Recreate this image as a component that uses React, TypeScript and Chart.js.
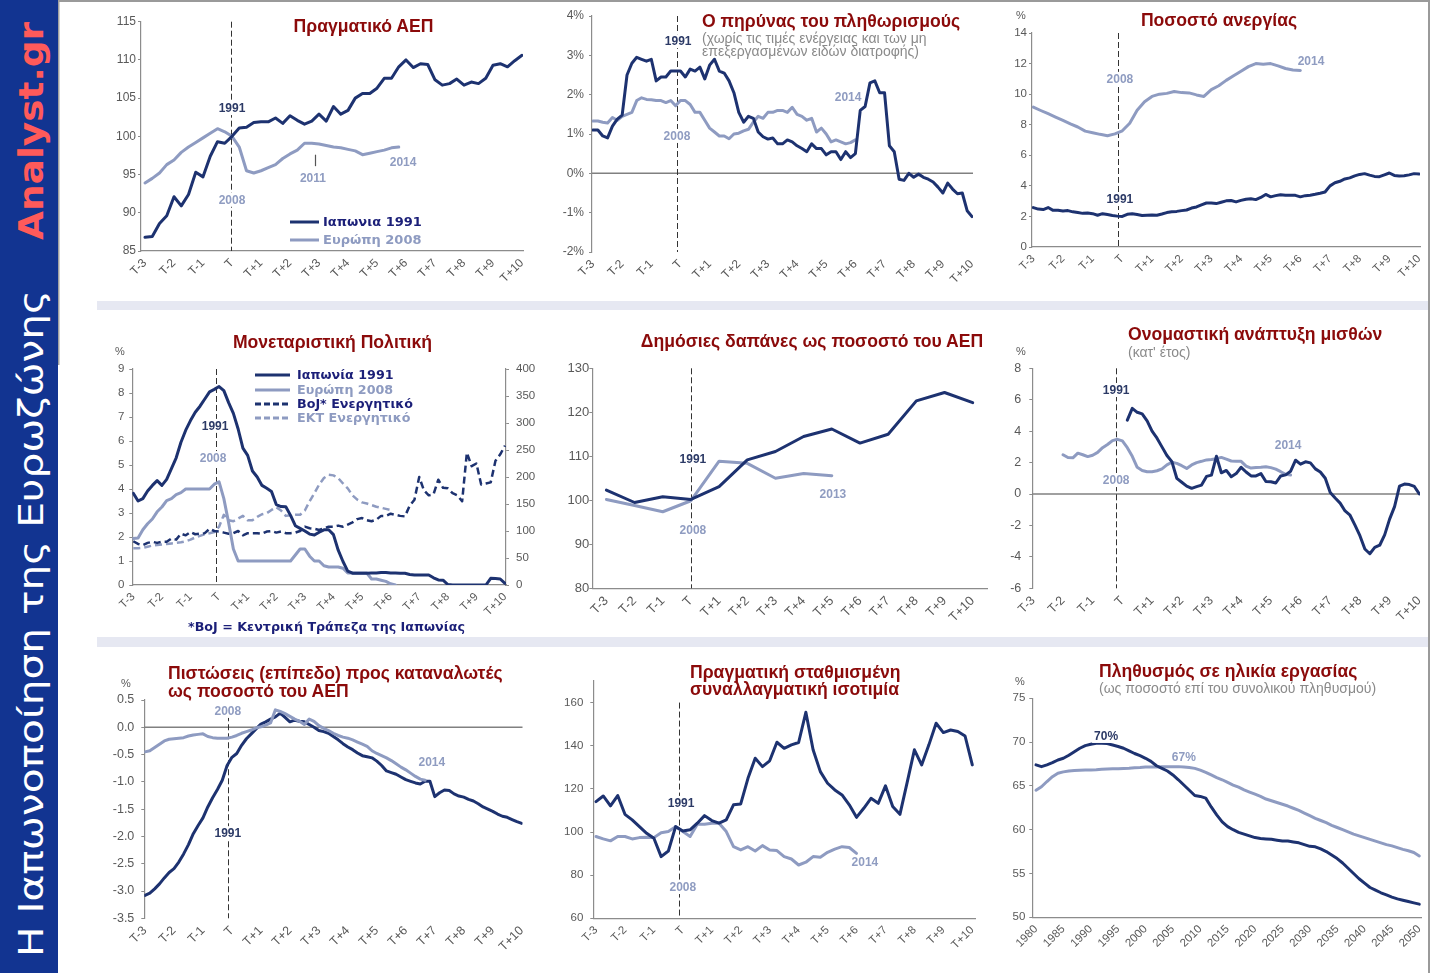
import React, { useEffect, useRef } from 'react';
import { Chart, registerables } from 'chart.js';

Chart.register(...registerables);
Chart.defaults.font.family = '"Liberation Sans", Arial, sans-serif';

// ---------------- axis categories ----------------
const T_VALUES = [-3, -2, -1, 0, 1, 2, 3, 4, 5, 6, 7, 8, 9, 10];
const T_LABELS = ['T-3', 'T-2', 'T-1', 'T', 'T+1', 'T+2', 'T+3', 'T+4', 'T+5', 'T+6', 'T+7', 'T+8', 'T+9', 'T+10'];
const YEAR_VALUES = [1980, 1985, 1990, 1995, 2000, 2005, 2010, 2015, 2020, 2025, 2030, 2035, 2040, 2045, 2050];
const YEAR_LABELS = ['1980', '1985', '1990', '1995', '2000', '2005', '2010', '2015', '2020', '2025', '2030', '2035', '2040', '2045', '2050'];

// ---------------- 1. Real GDP (quarterly from T-3) ----------------
const GDP_JAPAN = [86.8, 86.9, 88.6, 89.6, 92.1, 90.9, 92.4, 95.3, 94.7, 97.4, 99.3, 99.1, 100.0, 101.1, 101.2, 101.8, 101.9, 101.9, 102.4, 101.7, 102.7, 102.1, 101.6, 102.0, 102.9, 102.0, 103.9, 102.9, 103.4, 105.0, 105.6, 105.6, 106.3, 107.6, 107.6, 109.1, 110.0, 109.0, 109.5, 109.4, 107.4, 106.7, 106.9, 107.5, 106.7, 107.1, 106.9, 107.6, 109.3, 109.5, 109.1, 109.9, 110.6];
const GDP_EUROPE = [93.9, 94.5, 95.2, 96.3, 96.9, 97.9, 98.6, 99.2, 99.8, 100.4, 101.0, 100.6, 100.0, 98.6, 95.5, 95.2, 95.5, 95.9, 96.3, 97.1, 97.7, 98.2, 99.1, 99.1, 99.0, 98.8, 98.6, 98.5, 98.3, 98.1, 97.6, 97.8, 98.0, 98.2, 98.5, 98.6];

// ---------------- 2. Core inflation (%, 6 per period from T-3) ----------------
const CORE_JAPAN = [1.1, 1.1, 0.95, 0.9, 1.2, 1.38, 1.48, 2.5, 2.8, 2.95, 2.9, 2.85, 2.9, 2.35, 2.45, 2.45, 2.6, 2.6, 2.6, 2.45, 2.65, 2.6, 2.7, 2.4, 2.75, 2.9, 2.6, 2.55, 2.35, 2.05, 1.55, 1.3, 1.45, 1.4, 1.05, 0.93, 0.87, 0.9, 0.75, 0.75, 0.85, 0.8, 0.7, 0.63, 0.55, 0.75, 0.63, 0.63, 0.47, 0.55, 0.55, 0.35, 0.55, 0.4, 0.5, 1.6, 1.7, 2.3, 2.35, 2.05, 2.05, 0.7, 0.55, -0.15, -0.18, 0, -0.1, -0.02, -0.1, -0.15, -0.22, -0.35, -0.5, -0.25, -0.4, -0.52, -0.5, -0.95, -1.1];
const CORE_EUROPE = [1.33, 1.33, 1.3, 1.28, 1.42, 1.35, 1.45, 1.5, 1.55, 1.85, 1.92, 1.88, 1.87, 1.85, 1.85, 1.8, 1.85, 1.72, 1.85, 1.85, 1.75, 1.55, 1.55, 1.35, 1.15, 1.05, 0.95, 0.95, 0.88, 1.0, 1.02, 1.08, 1.12, 1.3, 1.45, 1.4, 1.55, 1.55, 1.6, 1.6, 1.55, 1.68, 1.5, 1.45, 1.35, 1.4, 1.05, 1.15, 1.0, 0.8, 0.85, 0.8, 0.75, 0.78, 0.85];

// ---------------- 3. Unemployment rate ----------------
const UNEMP_JAPAN = [2.58, 2.48, 2.45, 2.58, 2.4, 2.4, 2.36, 2.38, 2.3, 2.25, 2.2, 2.22, 2.18, 2.08, 2.18, 2.12, 2.06, 2.02, 2.0, 2.14, 2.18, 2.12, 2.06, 2.08, 2.1, 2.08, 2.16, 2.25, 2.3, 2.33, 2.38, 2.42, 2.55, 2.62, 2.76, 2.88, 2.88, 2.84, 2.93, 3.02, 3.04, 2.95, 3.05, 3.12, 3.15, 3.1, 3.24, 3.44, 3.28, 3.36, 3.42, 3.39, 3.39, 3.38, 3.28, 3.36, 3.39, 3.45, 3.52, 3.6, 4.0, 4.2, 4.3, 4.45, 4.52, 4.65, 4.75, 4.8, 4.7, 4.62, 4.6, 4.72, 4.84, 4.68, 4.65, 4.66, 4.72, 4.8, 4.77];
const UNEMP_EUROPE = [9.15, 8.93, 8.72, 8.5, 8.28, 8.05, 7.85, 7.58, 7.48, 7.37, 7.28, 7.4, 7.6, 8.1, 8.95, 9.5, 9.85, 10.0, 10.05, 10.17, 10.1, 10.08, 9.95, 9.85, 10.3, 10.55, 10.9, 11.2, 11.5, 11.8, 12.0, 11.95, 12.0, 11.85, 11.68, 11.58, 11.55];

// ---------------- 4. Monetary policy ----------------
const RATE_JAPAN = [3.82, 3.5, 3.6, 3.92, 4.15, 4.35, 4.15, 4.4, 4.85, 5.3, 5.95, 6.45, 6.85, 7.2, 7.45, 7.75, 8.05, 8.15, 8.27, 8.1, 7.6, 7.15, 6.5, 5.7, 5.4, 4.75, 4.5, 4.15, 4.03, 3.9, 3.35, 3.27, 3.26, 2.9, 2.47, 2.36, 2.25, 2.12, 2.08, 2.2, 2.3, 2.3, 2.1, 1.45, 0.98, 0.58, 0.49, 0.49, 0.49, 0.49, 0.5, 0.5, 0.52, 0.52, 0.5, 0.5, 0.49, 0.49, 0.44, 0.42, 0.42, 0.42, 0.42, 0.3, 0.21, 0.2, 0.02, 0, 0, 0, 0, 0, 0, 0, 0, 0.28, 0.27, 0.25, 0.07];
const RATE_EUROPE = [1.94, 1.96, 2.3, 2.55, 2.75, 3.05, 3.25, 3.52, 3.6, 3.77, 3.85, 4.0, 4.0, 4.0, 4.0, 4.0, 4.0, 4.2, 4.3, 3.6, 2.6, 1.5, 1.0, 1.0, 1.0, 1.0, 1.0, 1.0, 1.0, 1.0, 1.0, 1.0, 1.0, 1.0, 1.25, 1.5, 1.5, 1.2, 1.0, 1.0, 0.8, 0.75, 0.75, 0.75, 0.7, 0.5, 0.5, 0.5, 0.5, 0.5, 0.25, 0.25, 0.2, 0.15, 0.05, 0.0];
const ASSETS_BOJ = [81, 76, 74, 78, 80, 78, 80, 80, 86, 84, 95, 92, 98, 94, 95, 96, 104, 100, 99, 97, 95, 96, 100, 92, 96, 96, 96, 95, 99, 100, 97, 99, 96, 96, 97, 100, 108, 105, 104, 102, 105, 108, 108, 110, 108, 112, 116, 122, 124, 120, 118, 121, 128, 128, 132, 130, 128, 127, 147, 158, 200, 175, 166, 168, 195, 180, 179, 170, 166, 155, 245, 220, 225, 186, 188, 190, 230, 242, 258];
const ASSETS_ECB = [68, 68, 69, 71, 73, 74, 75, 76, 77, 78, 79, 81, 84, 88, 91, 94, 96, 98, 108, 130, 120, 118, 123, 128, 120, 120, 126, 131, 133, 139, 144, 138, 128, 129, 130, 130, 138, 155, 170, 186, 198, 204, 203, 198, 188, 179, 166, 158, 153, 151, 148, 145, 143, 141, 139];

// ---------------- 5. Public spending (annual) ----------------
const SPEND_JAPAN = [102.3, 99.5, 100.8, 100.2, 103.1, 109.2, 111.1, 114.5, 116.2, 113.0, 115.0, 122.6, 124.5, 122.2];
const SPEND_EUROPE = [100.2, 98.8, 97.4, 99.9, 108.9, 108.4, 105.0, 106.1, 105.6];

// ---------------- 6. Nominal wage growth ----------------
const WAGE_JAPAN = [4.7, 5.45, 5.2, 5.1, 4.65, 4.0, 3.55, 3.0, 2.45, 2.06, 1.0, 0.75, 0.5, 0.36, 0.47, 0.57, 1.12, 1.2, 2.4, 1.35, 1.5, 1.1, 1.3, 1.7, 1.4, 1.15, 1.15, 1.3, 0.8, 0.78, 0.7, 1.15, 1.22, 1.45, 2.15, 1.9, 2.05, 1.98, 1.6, 1.4, 1.0, 0.1, -0.25, -0.58, -1.08, -1.35, -1.98, -2.65, -3.5, -3.8, -3.4, -3.26, -2.6, -1.6, -0.8, 0.5, 0.63, 0.6, 0.48, 0.0];
const WAGE_EUROPE = [2.5, 2.32, 2.3, 2.6, 2.5, 2.38, 2.47, 2.65, 2.95, 3.15, 3.4, 3.48, 3.38, 2.95, 2.4, 1.7, 1.5, 1.42, 1.42, 1.48, 1.6, 1.85, 2.02, 1.95, 1.8, 1.63, 1.85, 2.0, 2.08, 2.17, 2.2, 2.25, 2.33, 2.22, 2.1, 2.08, 2.08, 1.78, 1.65, 1.68, 1.7, 1.74, 1.68, 1.58, 1.42, 1.25, 1.21];

// ---------------- 7. Consumer credit ----------------
const CREDIT_JAPAN = [-3.08, -3.04, -2.96, -2.87, -2.76, -2.66, -2.59, -2.47, -2.32, -2.15, -1.95, -1.8, -1.66, -1.46, -1.29, -1.14, -0.97, -0.7, -0.55, -0.48, -0.33, -0.21, -0.12, -0.03, 0.06, 0.1, 0.15, 0.19, 0.26, 0.18, 0.1, 0.13, 0.11, 0.1, 0.05, 0.0, -0.06, -0.08, -0.11, -0.17, -0.23, -0.3, -0.36, -0.41, -0.47, -0.52, -0.54, -0.56, -0.62, -0.7, -0.8, -0.83, -0.86, -0.91, -0.96, -0.99, -1.02, -1.04, -0.99, -0.99, -1.27, -1.2, -1.15, -1.16, -1.22, -1.26, -1.28, -1.32, -1.35, -1.4, -1.46, -1.5, -1.54, -1.59, -1.63, -1.65, -1.69, -1.73, -1.76];
const CREDIT_EUROPE = [-0.45, -0.43, -0.37, -0.31, -0.25, -0.22, -0.21, -0.2, -0.19, -0.16, -0.14, -0.13, -0.12, -0.17, -0.19, -0.2, -0.2, -0.2, -0.18, -0.15, -0.11, -0.08, -0.05, -0.01, 0.01, 0.04, 0.08, 0.32, 0.29, 0.25, 0.2, 0.15, 0.11, 0.05, 0.15, 0.11, 0.03, -0.02, -0.06, -0.11, -0.15, -0.18, -0.2, -0.23, -0.27, -0.31, -0.35, -0.43, -0.48, -0.52, -0.56, -0.61, -0.67, -0.73, -0.78, -0.84, -0.9, -0.95, -0.97];

// ---------------- 8. Real effective exchange rate (quarterly) ----------------
const REER_JAPAN = [114.1, 116.7, 112.1, 116.9, 108.2, 105.6, 102.5, 99.4, 97.1, 88.6, 91.2, 102.5, 100.5, 101.0, 104.1, 107.6, 105.3, 104.1, 105.6, 112.6, 113.0, 124.9, 134.2, 130.3, 133.0, 141.6, 138.8, 140.4, 141.5, 155.5, 138.1, 128.0, 122.6, 119.5, 117.2, 112.6, 106.8, 111.0, 115.6, 113.3, 121.4, 111.8, 108.2, 123.0, 138.1, 131.1, 140.4, 150.4, 146.1, 147.3, 146.6, 144.5, 131.1];
const REER_EUROPE = [97.9, 96.8, 95.9, 97.9, 97.9, 96.8, 97.4, 97.6, 97.4, 99.7, 100.2, 102.5, 100.2, 97.9, 103.6, 103.6, 104.1, 104.1, 100.2, 93.2, 91.7, 93.2, 91.2, 93.7, 91.7, 91.4, 88.6, 87.5, 84.7, 86.0, 88.6, 88.3, 90.6, 92.1, 93.2, 92.8, 90.1];

// ---------------- 9. Working-age population (annual 1980-2050) ----------------
const WORK_JAPAN = [67.4, 67.2, 67.4, 67.65, 67.96, 68.15, 68.5, 68.9, 69.3, 69.6, 69.75, 69.86, 69.86, 69.83, 69.67, 69.5, 69.3, 69.0, 68.7, 68.45, 68.15, 67.8, 67.3, 67.0, 66.7, 66.25, 65.7, 65.1, 64.5, 63.9, 63.8, 63.6, 62.6, 61.7, 60.9, 60.35, 60.0, 59.7, 59.5, 59.3, 59.1, 59.0, 58.95, 58.9, 58.8, 58.7, 58.7, 58.6, 58.5, 58.3, 58.1, 58.05, 57.8, 57.5, 57.1, 56.7, 56.2, 55.6, 55.0, 54.4, 53.9, 53.4, 53.1, 52.8, 52.55, 52.3, 52.1, 51.95, 51.8, 51.65, 51.5];
const WORK_EUROPE = [64.5, 64.9, 65.5, 66.05, 66.45, 66.6, 66.7, 66.75, 66.8, 66.82, 66.82, 66.85, 66.9, 66.93, 66.95, 66.97, 67.0, 67.02, 67.08, 67.1, 67.15, 67.15, 67.17, 67.2, 67.2, 67.2, 67.2, 67.15, 67.1, 67.0, 66.8, 66.55, 66.25, 65.95, 65.7, 65.4, 65.1, 64.85, 64.55, 64.3, 64.05, 63.8, 63.5, 63.3, 63.1, 62.9, 62.7, 62.45, 62.2, 61.9, 61.6, 61.3, 61.05, 60.8, 60.5, 60.25, 60.0, 59.75, 59.5, 59.3, 59.1, 58.9, 58.7, 58.5, 58.3, 58.15, 57.95, 57.75, 57.6, 57.4, 57.0];

// ---------------- in-plot annotations (text, x value, y value, series) ----------------
const NOTES_GDP = [{ t: '1991', x: 0, y: 103.7, s: 'jp' }, { t: '2008', x: 0, y: 91.7, s: 'eu' }, { t: '2011', x: 2.79, y: 94.55, s: 'eu' }, { t: '2014', x: 5.9, y: 96.6, s: 'eu' }];
const NOTES_CORE = [{ t: '1991', x: -0.08, y: 3.36, s: 'jp' }, { t: '2008', x: -0.12, y: 0.95, s: 'eu' }, { t: '2014', x: 5.75, y: 1.94, s: 'eu' }];
const NOTES_UNEMP = [{ t: '2008', x: -0.08, y: 11.0, s: 'eu' }, { t: '1991', x: -0.08, y: 3.14, s: 'jp' }, { t: '2014', x: 6.36, y: 12.17, s: 'eu' }];
const NOTES_RATE = [{ t: '1991', x: -0.14, y: 6.63, s: 'jp' }, { t: '2008', x: -0.21, y: 5.29, s: 'eu' }];
const NOTES_SPEND = [{ t: '1991', x: 0.07, y: 109.4, s: 'jp' }, { t: '2008', x: 0.07, y: 93.25, s: 'eu' }, { t: '2013', x: 5.04, y: 101.4, s: 'eu' }];
const NOTES_WAGE = [{ t: '1991', x: -0.21, y: 6.62, s: 'jp' }, { t: '2008', x: -0.21, y: 0.89, s: 'eu' }, { t: '2014', x: 5.58, y: 3.12, s: 'eu' }];
const NOTES_CREDIT = [{ t: '2008', x: -0.14, y: 0.3, s: 'eu' }, { t: '1991', x: -0.14, y: -1.94, s: 'jp' }, { t: '2014', x: 6.9, y: -0.64, s: 'eu' }];
const NOTES_REER = [{ t: '1991', x: -0.06, y: 113.5, s: 'jp' }, { t: '2008', x: 0.0, y: 74.5, s: 'eu' }, { t: '2014', x: 6.29, y: 86.1, s: 'eu' }];
const NOTES_WORK = [{ t: '70%', x: 1992.8, y: 70.7, s: 'jp' }, { t: '67%', x: 2007, y: 68.3, s: 'eu' }];

// ---------------- texts ----------------
const SIDE_BRAND = 'Analyst.gr';
const SIDE_TITLE = 'Η Ιαπωνοποίηση της Ευρωζώνης';
const TITLE_GDP = 'Πραγματικό ΑΕΠ';
const TITLE_CORE = 'Ο πηρύνας του πληθωρισμούς';
const SUB_CORE = ['(χωρίς τις τιμές ενέργειας και των μη', 'επεξεργασμένων ειδών διατροφής)'];
const TITLE_UNEMP = 'Ποσοστό ανεργίας';
const TITLE_MON = 'Μονεταριστική Πολιτική';
const TITLE_SPEND = 'Δημόσιες δαπάνες ως ποσοστό του ΑΕΠ';
const TITLE_WAGE = 'Ονομαστική ανάπτυξη μισθών';
const SUB_WAGE = "(κατ' έτος)";
const TITLE_CREDIT = ['Πιστώσεις (επίπεδο) προς καταναλωτές', 'ως ποσοστό του ΑΕΠ'];
const TITLE_REER = ['Πραγματική σταθμισμένη', 'συναλλαγματική ισοτιμία'];
const TITLE_WORK = 'Πληθυσμός σε ηλικία εργασίας';
const SUB_WORK = '(ως ποσοστό επί του συνολικού πληθυσμού)';
const LEGEND_GDP = ['Ιαπωνια 1991', 'Ευρώπη 2008'];
const LEGEND_MON = ['Ιαπωνία 1991', 'Ευρώπη 2008', 'BoJ* Ενεργητικό', 'ΕΚΤ Ενεργητικό'];
const FOOTNOTE = '*BoJ = Κεντρική Τράπεζα της Ιαπωνίας';

// ---------------- styles ----------------
const NAVY = '#1d3270';
const LIGHT = '#8e9bc1';
const NOTE_JP = '#2c3a66';
const NOTE_EU = '#8f9cc1';
const AXIS = '#8c8c8c';
const ZERO = '#808080';
const TICK_TXT = '#595959';
const TITLE_RED = '#8b0a0a';
const LEG_NAVY = '#1b1f78';
const SUB_GREY = '#8a8a8a';
const SIDEBAR = '#123491';
const BRAND = '#ff5a5a';
const FONT = '"Liberation Sans", Arial, sans-serif';
const VFONT = '"DejaVu Sans", Verdana, sans-serif';

function pts(start: number, step: number, values: number[]) {
  return values.map((v, i) => ({ x: start + i * step, y: v }));
}

function ds(data: any[], color: string, extra: any = {}) {
  return { data, borderColor: color, backgroundColor: color, borderWidth: 3, pointRadius: 0, tension: 0, fill: false, borderCapStyle: 'round', borderJoinStyle: 'round', ...extra };
}

const S6 = 1 / 6;

const PANELS: any[] = [
  {
    box: [95, 5, 455, 293], plot: [141, 21.7, 523, 251], xPix: [145, 522], xVal: [-3, 10],
    xTicks: T_VALUES, xLabels: T_LABELS, y: { min: 85, max: 115, step: 5 }, fs: 12, yPad: 2, xPad: 5, xBorder: true,
    vline: -0.04, notes: NOTES_GDP, marks: [{ x: 2.86, y1: 97.6, y2: 96.1 }],
    datasets: [ds(pts(-3, 0.25, GDP_JAPAN), NAVY), ds(pts(-3, 0.25, GDP_EUROPE), LIGHT)],
  },
  {
    box: [550, 5, 440, 293], plot: [592, 16, 973, 252], xPix: [593, 972], xVal: [-3, 10],
    xTicks: T_VALUES, xLabels: T_LABELS, y: { min: -2, max: 4, step: 1, fmt: (v: number) => v + '%' }, fs: 12, yPad: 5, xPad: 5, xBorder: false,
    hline: 0, vline: -0.12, notes: NOTES_CORE,
    datasets: [ds(pts(-3, S6, CORE_JAPAN), NAVY), ds(pts(-3, S6, CORE_EUROPE), LIGHT)],
  },
  {
    box: [990, 5, 440, 293], plot: [1032, 33, 1420, 247], xPix: [1033.3, 1419], xVal: [-3, 10],
    xTicks: T_VALUES, xLabels: T_LABELS, y: { min: 0, max: 14, step: 2 }, fs: 11.5, yPad: 2, xPad: 5, xBorder: true,
    vline: -0.145, notes: NOTES_UNEMP,
    datasets: [ds(pts(-3, S6, UNEMP_JAPAN), NAVY), ds(pts(-3, 0.25, UNEMP_EUROPE), LIGHT)],
  },
  {
    box: [95, 330, 455, 292], plot: [132.3, 369, 506, 585], xPix: [133.3, 505], xVal: [-3, 10],
    xTicks: T_VALUES, xLabels: T_LABELS, y: { min: 0, max: 9, step: 1 }, y2: { min: 0, max: 400, step: 50, width: 36, pad: 7 },
    fs: 11.5, yPad: 5, xPad: 5, xBorder: true, vline: -0.11, notes: NOTES_RATE,
    datasets: [
      ds(pts(-3, S6, RATE_JAPAN), NAVY),
      ds(pts(-3, S6, RATE_EUROPE), LIGHT),
      ds(pts(-3, S6, ASSETS_BOJ), NAVY, { yAxisID: 'y2', borderDash: [7, 4], borderWidth: 2.5, borderCapStyle: 'butt' }),
      ds(pts(-3, S6, ASSETS_ECB), LIGHT, { yAxisID: 'y2', borderDash: [7, 4], borderWidth: 2.5, borderCapStyle: 'butt' }),
    ],
  },
  {
    box: [550, 330, 440, 292], plot: [592.3, 368.3, 987, 588.3], xPix: [606.4, 972.7], xVal: [-3, 10],
    xTicks: T_VALUES, xLabels: T_LABELS, y: { min: 80, max: 130, step: 10 }, fs: 13, yPad: 0, xPad: 5, xBorder: true,
    vline: 0, notes: NOTES_SPEND,
    datasets: [ds(pts(-3, 1, SPEND_JAPAN), NAVY), ds(pts(-3, 1, SPEND_EUROPE), LIGHT)],
  },
  {
    box: [990, 330, 440, 292], plot: [1032.3, 368.3, 1420, 588.3], xPix: [1033.3, 1419.3], xVal: [-3, 10],
    xTicks: T_VALUES, xLabels: T_LABELS, y: { min: -6, max: 8, step: 2 }, fs: 12.5, yPad: 8, xPad: 5, xBorder: false,
    hline: 0, vline: -0.21, notes: NOTES_WAGE,
    datasets: [ds(pts(S6, S6, WAGE_JAPAN), NAVY), ds(pts(-2, S6, WAGE_EUROPE), LIGHT)],
  },
  {
    box: [95, 660, 455, 300], plot: [144.3, 700, 522.5, 918.3], xPix: [145, 521.7], xVal: [-3, 10],
    xTicks: T_VALUES, xLabels: T_LABELS, y: { min: -3.5, max: 0.5, step: 0.5, fmt: (v: number) => v.toFixed(1) }, fs: 12.5, yPad: 7, xPad: 5, xBorder: false,
    hline: 0, vline: -0.15, vlineTop: 0.22, notes: NOTES_CREDIT,
    datasets: [ds(pts(-3, S6, CREDIT_EUROPE), LIGHT), ds(pts(-3, S6, CREDIT_JAPAN), NAVY)],
  },
  {
    box: [550, 660, 440, 300], plot: [593.3, 681, 975, 918.3], xPix: [596, 972.3], xVal: [-3, 10],
    xTicks: T_VALUES, xLabels: T_LABELS, y: { min: 60, max: 170, step: 20, onStep: true }, fs: 11.5, yPad: 7, xPad: 5, xBorder: true,
    vline: -0.12, vlineTop: 160, notes: NOTES_REER,
    datasets: [ds(pts(-3, 0.25, REER_JAPAN), NAVY), ds(pts(-3, 0.25, REER_EUROPE), LIGHT)],
  },
  {
    box: [990, 660, 440, 300], plot: [1032.3, 698.3, 1421.7, 917.3], xPix: [1036, 1419.3], xVal: [1980, 2050],
    xTicks: YEAR_VALUES, xLabels: YEAR_LABELS, y: { min: 50, max: 75, step: 5 }, fs: 11.5, yPad: 4, xPad: 5, xBorder: true,
    notes: NOTES_WORK,
    datasets: [ds(pts(1980, 1, WORK_JAPAN), NAVY), ds(pts(1980, 1, WORK_EUROPE), LIGHT)],
  },
];

function clearPad(s: any) {
  s.paddingLeft = 0; s.paddingRight = 0; s.paddingTop = 0; s.paddingBottom = 0;
}

function buildOptions(cfg: any) {
  const [bx, by, bw, bh] = cfg.box;
  const [l, t, r, b] = cfg.plot;
  const k = (cfg.xVal[1] - cfg.xVal[0]) / (cfg.xPix[1] - cfg.xPix[0]);
  const xMin = cfg.xVal[0] - (cfg.xPix[0] - l) * k;
  const xMax = cfg.xVal[0] + (r - cfg.xPix[0]) * k;
  const rightW = cfg.y2 ? cfg.y2.width : 0;
  const font = { size: cfg.fs, family: FONT };
  const scales: any = {
    x: {
      type: 'linear', min: xMin, max: xMax, bounds: 'data',
      afterBuildTicks: (s: any) => { s.ticks = cfg.xTicks.map((v: number) => ({ value: v })); },
      afterFit: (s: any) => { s.height = by + bh - b; clearPad(s); },
      grid: { display: false, drawTicks: false },
      border: { display: cfg.xBorder, color: AXIS, width: 1.2 },
      ticks: {
        color: TICK_TXT, font, minRotation: 45, maxRotation: 45, padding: cfg.xPad, autoSkip: false,
        callback: (v: number) => { const i = cfg.xTicks.indexOf(v); return i >= 0 ? cfg.xLabels[i] : ''; },
      },
    },
    y: {
      type: 'linear', position: 'left', min: cfg.y.min, max: cfg.y.max, bounds: 'data',
      afterBuildTicks: (s: any) => {
        if (cfg.y.onStep) {
          s.ticks = s.ticks.filter((tk: any) => {
            const q = (tk.value - cfg.y.min) / cfg.y.step;
            return Math.abs(q - Math.round(q)) < 1e-6;
          });
        }
      },
      afterFit: (s: any) => { s.width = l - bx; clearPad(s); },
      grid: { display: true, drawOnChartArea: false, drawTicks: true, tickLength: 3, color: AXIS },
      border: { display: true, color: AXIS, width: 1.2 },
      ticks: { stepSize: cfg.y.step, color: TICK_TXT, font, padding: cfg.yPad, callback: cfg.y.fmt || ((v: number) => String(v)) },
    },
  };
  if (cfg.y2) {
    scales.y2 = {
      type: 'linear', position: 'right', min: cfg.y2.min, max: cfg.y2.max, bounds: 'data',
      afterFit: (s: any) => { s.width = rightW; clearPad(s); },
      grid: { display: true, drawOnChartArea: false, drawTicks: true, tickLength: 3, color: AXIS },
      border: { display: true, color: AXIS, width: 1.2 },
      ticks: { stepSize: cfg.y2.step, color: TICK_TXT, font, padding: cfg.y2.pad, callback: (v: number) => String(v) },
    };
  }
  return {
    responsive: false,
    animation: false,
    events: [],
    layout: { padding: { left: 0, top: t - by, right: bx + bw - r - rightW, bottom: 0 } },
    plugins: { legend: { display: false }, tooltip: { enabled: false }, title: { display: false } },
    scales,
  };
}

function makeOverlay(cfg: any) {
  return {
    id: 'overlay',
    beforeDatasetsDraw(chart: any) {
      const { ctx, chartArea: a } = chart;
      const xs = chart.scales.x;
      const ys = chart.scales.y;
      ctx.save();
      if (cfg.hline !== undefined) {
        const py = ys.getPixelForValue(cfg.hline);
        ctx.strokeStyle = ZERO;
        ctx.lineWidth = 1.5;
        ctx.beginPath(); ctx.moveTo(a.left, py); ctx.lineTo(a.right, py); ctx.stroke();
      }
      if (cfg.vline !== undefined) {
        const px = Math.round(xs.getPixelForValue(cfg.vline)) + 0.5;
        const top = cfg.vlineTop !== undefined ? ys.getPixelForValue(cfg.vlineTop) : a.top;
        ctx.strokeStyle = '#333';
        ctx.lineWidth = 1;
        ctx.setLineDash([6, 3]);
        ctx.beginPath(); ctx.moveTo(px, top); ctx.lineTo(px, a.bottom); ctx.stroke();
        ctx.setLineDash([]);
      }
      (cfg.marks || []).forEach((m: any) => {
        const px = Math.round(xs.getPixelForValue(m.x)) + 0.5;
        ctx.strokeStyle = '#555';
        ctx.lineWidth = 1.2;
        ctx.beginPath(); ctx.moveTo(px, ys.getPixelForValue(m.y1)); ctx.lineTo(px, ys.getPixelForValue(m.y2)); ctx.stroke();
      });
      ctx.restore();
    },
    afterDatasetsDraw(chart: any) {
      const { ctx } = chart;
      const xs = chart.scales.x;
      const ys = chart.scales.y;
      ctx.save();
      ctx.font = 'bold 12px ' + FONT;
      ctx.textAlign = 'center';
      ctx.textBaseline = 'middle';
      (cfg.notes || []).forEach((n: any) => {
        const px = xs.getPixelForValue(n.x);
        const py = ys.getPixelForValue(n.y);
        const w = ctx.measureText(n.t).width;
        ctx.fillStyle = '#ffffff';
        ctx.fillRect(px - w / 2 - 2, py - 7, w + 4, 14);
        ctx.fillStyle = n.s === 'jp' ? NOTE_JP : NOTE_EU;
        ctx.fillText(n.t, px, py + 0.5);
      });
      ctx.restore();
    },
  };
}

function Panel({ cfg }: { cfg: any }) {
  const ref = useRef<HTMLCanvasElement | null>(null);
  useEffect(() => {
    const chart = new Chart(ref.current as HTMLCanvasElement, {
      type: 'line',
      data: { datasets: cfg.datasets },
      options: buildOptions(cfg) as any,
      plugins: [makeOverlay(cfg) as any],
    });
    return () => chart.destroy();
  }, [cfg]);
  const [x, y, w, h] = cfg.box;
  return <canvas ref={ref} width={w} height={h} style={{ position: 'absolute', left: x, top: y, width: w, height: h }} />;
}

function Txt({ x, y, text, size, color, bold, center, family }: any) {
  const lh = Math.round(size * 1.25);
  return (
    <div
      style={{
        position: 'absolute', left: x, top: y - lh / 2, height: lh, lineHeight: lh + 'px', fontSize: size,
        fontWeight: bold ? 'bold' : 'normal', color, whiteSpace: 'nowrap', fontFamily: family || FONT,
        transform: center ? 'translateX(-50%)' : undefined,
      }}
    >
      {text}
    </div>
  );
}

function Sample({ x1, x2, y, color, dashed }: any) {
  const w = x2 - x1;
  return (
    <svg style={{ position: 'absolute', left: x1, top: y - 3 }} width={w} height={6}>
      <line x1={0} y1={3} x2={w} y2={3} stroke={color} strokeWidth={3} strokeDasharray={dashed ? '6 3' : undefined} />
    </svg>
  );
}

export default function App() {
  const title = (text: string, x: number, y: number, center = false) => (
    <Txt key={text} text={text} x={x} y={y} size={17.6} bold color={TITLE_RED} center={center} />
  );
  const sub = (text: string, x: number, y: number) => <Txt key={text} text={text} x={x} y={y} size={14} color={SUB_GREY} />;
  const pct = (x: number, y: number) => <Txt key={'p' + x + y} text="%" x={x} y={y} size={11} color={TICK_TXT} />;
  const leg = (text: string, x: number, y: number, color: string, size: number) => (
    <Txt key={text + y} text={text} x={x} y={y} size={size} bold color={color} family={VFONT} />
  );
  return (
    <div style={{ position: 'fixed', left: 0, top: 0, width: 1430, height: 973, background: '#ffffff', overflow: 'hidden' }}>
      <div style={{ position: 'absolute', left: 0, top: 0, width: 1430, height: 2, background: '#9a9a9a' }} />
      <div style={{ position: 'absolute', left: 1428, top: 0, width: 2, height: 973, background: '#9a9a9a' }} />
      <div style={{ position: 'absolute', left: 97, top: 301, width: 1331, height: 9, background: '#e6e8f2' }} />
      <div style={{ position: 'absolute', left: 97, top: 637, width: 1331, height: 10, background: '#e6e8f2' }} />

      <svg style={{ position: 'absolute', left: 0, top: 0 }} width={60} height={973}>
        <rect x={0} y={0} width={58} height={973} fill={SIDEBAR} />
        <rect x={58} y={0} width={1.5} height={365} fill="#a0a0a0" />
        <text transform="translate(43,240) rotate(-90)" fontFamily={'"DejaVu Sans Condensed", "DejaVu Sans", sans-serif'} fontWeight="bold" fontSize={34} fill={BRAND} textLength={218} lengthAdjust="spacingAndGlyphs">
          {SIDE_BRAND}
        </text>
        <text transform="translate(43,957) rotate(-90)" fontFamily={'"DejaVu Sans Condensed", "DejaVu Sans", sans-serif'} fontSize={34} fill="#ffffff" textLength={667} lengthAdjust="spacingAndGlyphs">
          {SIDE_TITLE}
        </text>
      </svg>

      {PANELS.map((p, i) => <Panel key={i} cfg={p} />)}

      {title(TITLE_GDP, 363.5, 26, true)}
      {title(TITLE_CORE, 702, 20.7)}
      {sub(SUB_CORE[0], 702, 37.5)}
      {sub(SUB_CORE[1], 702, 50.5)}
      {title(TITLE_UNEMP, 1219, 20, true)}
      {pct(1016, 15)}

      {title(TITLE_MON, 332.5, 341.5, true)}
      {pct(115, 351)}
      {title(TITLE_SPEND, 812, 341, true)}
      {title(TITLE_WAGE, 1128, 334)}
      {sub(SUB_WAGE, 1128, 351.5)}
      {pct(1016, 351)}

      {title(TITLE_CREDIT[0], 168, 673)}
      {title(TITLE_CREDIT[1], 168, 691)}
      {pct(121, 683)}
      {title(TITLE_REER[0], 690, 671.5)}
      {title(TITLE_REER[1], 690, 689)}
      {title(TITLE_WORK, 1099, 671)}
      {sub(SUB_WORK, 1099, 688.3)}
      {pct(1015, 681)}

      <Sample x1={290} x2={319} y={221.7} color={NAVY} />
      <Sample x1={290} x2={319} y={240} color={LIGHT} />
      {leg(LEGEND_GDP[0], 323, 221.7, LEG_NAVY, 13)}
      {leg(LEGEND_GDP[1], 323, 240, LIGHT, 13)}

      <Sample x1={255} x2={290} y={375} color={NAVY} />
      <Sample x1={255} x2={290} y={390} color={LIGHT} />
      <Sample x1={255} x2={290} y={404} color={NAVY} dashed />
      <Sample x1={255} x2={290} y={418} color={LIGHT} dashed />
      {leg(LEGEND_MON[0], 297, 375, LEG_NAVY, 12.7)}
      {leg(LEGEND_MON[1], 297, 390, LIGHT, 12.7)}
      {leg(LEGEND_MON[2], 297, 404, LEG_NAVY, 12.7)}
      {leg(LEGEND_MON[3], 297, 418, LIGHT, 12.7)}
      <Txt text={FOOTNOTE} x={326.5} y={627} size={12.7} bold color={LEG_NAVY} center family={VFONT} />
    </div>
  );
}
